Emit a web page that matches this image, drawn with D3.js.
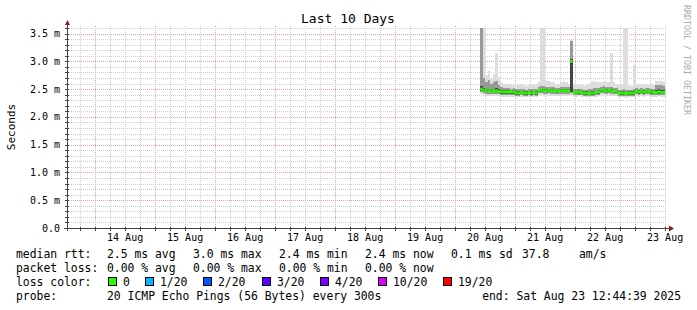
<!DOCTYPE html>
<html>
<head>
<meta charset="utf-8">
<script src="https://cdn.jsdelivr.net/npm/d3@7/dist/d3.min.js"></script>
<style>
body{margin:0;background:#fff;}
svg text{font-family:"DejaVu Sans Mono",monospace;fill:#000;white-space:pre;}
</style>
</head>
<body>
<div class="canvas"></div>
<script>
var pageWidth = 697, pageHeight = 310;
var plotL = 67, plotR = 667, plotT = 28, plotB = 228;

// time window of the graph and the first hourly sample
var graphStart = new Date(2025, 7, 13, 12, 44, 39),
    graphEnd = new Date(2025, 7, 23, 12, 44, 39),
    firstSample = new Date(2025, 7, 20, 10, 0, 0);

// hourly rtt (ms): median and smoke bands (outer / middle / inner)
var med = [2.50,2.48,2.47,2.47,2.47,2.47,2.47,2.46,2.45,2.45, 2.45,2.45,2.45,2.45,2.43,2.43,2.44,2.43,2.43,2.44,
           2.43,2.44,2.43,2.48,2.48,2.47,2.47,2.48,2.47,2.47, 2.46,2.47,2.47,2.47,2.47,2.47,3.00,2.44,2.44,2.45,
           2.44,2.43,2.43,2.42,2.43,2.43,2.44,2.45,2.48,2.48, 2.47,2.48,2.47,2.46,2.46,2.42,2.43,2.43,2.42,2.43,
           2.43,2.43,2.46,2.45,2.46,2.45,2.46,2.46,2.45,2.44, 2.44,2.45,2.44,2.44];
var hi  = [3.62,3.62,2.75,2.82,2.70,2.78,3.15,2.72,2.62,2.60, 2.58,2.60,2.58,2.60,2.57,2.58,2.60,2.57,2.56,2.58,
           2.57,2.58,2.60,2.62,3.62,3.62,2.65,2.64,2.62,2.62, 2.60,2.60,2.62,2.64,2.62,2.60,3.40,2.60,2.58,2.60,
           2.58,2.56,2.58,2.60,2.62,2.64,2.63,2.62,2.62,2.64, 2.62,2.62,3.15,2.62,2.60,2.57,2.58,3.62,3.62,2.57,
           2.56,2.93,2.60,2.58,2.59,2.58,2.60,2.58,2.57,2.58, 2.64,2.65,2.64,2.62];
var mHi = [3.62,2.70,2.62,2.66,2.60,2.62,2.64,2.58,2.54,2.52, 2.52,2.52,2.51,2.52,2.50,2.50,2.51,2.50,2.49,2.50,
           2.50,2.51,2.51,2.54,2.56,2.55,2.54,2.54,2.53,2.53, 2.52,2.52,2.53,2.54,2.53,2.53,3.37,2.51,2.50,2.51,
           2.50,2.49,2.49,2.50,2.51,2.52,2.52,2.52,2.54,2.55, 2.53,2.54,2.53,2.52,2.52,2.49,2.49,2.50,2.49,2.49,
           2.49,2.50,2.52,2.51,2.52,2.51,2.52,2.52,2.51,2.51, 2.57,2.58,2.57,2.55];
var iHi = [2.56,2.52,2.51,2.51,2.51,2.51,2.52,2.50,2.48,2.48, 2.48,2.48,2.47,2.48,2.46,2.46,2.47,2.46,2.46,2.47,
           2.46,2.47,2.46,2.51,2.51,2.50,2.50,2.51,2.50,2.50, 2.49,2.50,2.50,2.50,2.50,2.50,3.05,2.47,2.47,2.48,
           2.47,2.46,2.46,2.45,2.46,2.46,2.47,2.48,2.51,2.51, 2.50,2.51,2.50,2.49,2.49,2.45,2.46,2.46,2.45,2.46,
           2.46,2.46,2.49,2.48,2.49,2.48,2.49,2.49,2.48,2.47, 2.48,2.50,2.49,2.48];
var iLo = [2.47,2.45,2.44,2.44,2.44,2.44,2.44,2.43,2.42,2.42, 2.42,2.42,2.42,2.42,2.40,2.40,2.41,2.40,2.40,2.41,
           2.40,2.41,2.40,2.45,2.45,2.44,2.44,2.45,2.44,2.44, 2.43,2.44,2.44,2.44,2.44,2.44,2.45,2.41,2.41,2.42,
           2.41,2.40,2.40,2.39,2.40,2.40,2.41,2.42,2.45,2.45, 2.44,2.45,2.44,2.43,2.43,2.39,2.40,2.40,2.39,2.40,
           2.40,2.40,2.43,2.42,2.43,2.42,2.43,2.43,2.42,2.41, 2.41,2.42,2.41,2.41];
var mLo = [2.45,2.43,2.42,2.42,2.42,2.42,2.42,2.41,2.40,2.40, 2.40,2.40,2.40,2.40,2.38,2.38,2.39,2.38,2.38,2.39,
           2.38,2.39,2.38,2.43,2.43,2.42,2.42,2.43,2.42,2.42, 2.41,2.42,2.42,2.42,2.42,2.42,2.43,2.39,2.39,2.40,
           2.39,2.38,2.38,2.37,2.38,2.38,2.39,2.40,2.43,2.43, 2.42,2.43,2.42,2.41,2.41,2.37,2.38,2.38,2.37,2.38,
           2.38,2.38,2.41,2.40,2.41,2.40,2.41,2.41,2.40,2.39, 2.39,2.40,2.39,2.39];
var lo  = [2.41,2.39,2.38,2.38,2.38,2.38,2.38,2.37,2.36,2.36, 2.36,2.36,2.36,2.36,2.35,2.35,2.36,2.35,2.35,2.36,
           2.35,2.36,2.35,2.39,2.39,2.38,2.38,2.39,2.38,2.38, 2.37,2.38,2.38,2.38,2.38,2.38,2.40,2.36,2.36,2.37,
           2.36,2.35,2.35,2.34,2.35,2.35,2.36,2.37,2.39,2.39, 2.38,2.39,2.38,2.37,2.37,2.34,2.35,2.35,2.34,2.35,
           2.35,2.35,2.37,2.36,2.37,2.36,2.37,2.37,2.36,2.36, 2.36,2.37,2.36,2.36];

var yLabelValues = [0, 0.5, 1.0, 1.5, 2.0, 2.5, 3.0, 3.5];
var yLabels = ["0.0", "0.5 m", "1.0 m", "1.5 m", "2.0 m", "2.5 m", "3.0 m", "3.5 m"];
var xLabelDays = [14, 15, 16, 17, 18, 19, 20, 21, 22, 23];

var lossLabels = ["0", "1/20", "2/20", "3/20", "4/20", "10/20", "19/20"];
var lossColors = ["#26ff00", "#00b8ff", "#0059ff", "#5e00ff", "#7e00ff", "#dd00ff", "#ff0000"];

var svg = d3.select('.canvas')
    .append('svg')
    .attr('width', pageWidth)
    .attr('height', pageHeight);

var x = d3.scaleTime().domain([graphStart, graphEnd]).range([plotL, plotR]);
var y = d3.scaleLinear().domain([0, 3.6]).range([plotB, plotT]);

// grid
var grid = svg.append('g').attr('shape-rendering', 'crispEdges');
var minorX = d3.timeHour.every(6).range(graphStart, graphEnd);
grid.selectAll('.vminor').data(minorX).enter().append('line')
    .attr('x1', function(d){ return Math.round(x(d)) + 0.5; })
    .attr('x2', function(d){ return Math.round(x(d)) + 0.5; })
    .attr('y1', plotT - 2).attr('y2', plotB)
    .attr('stroke', function(d){ return d.getHours() === 0 ? '#f4a0a0' : '#cfcfcf'; })
    .attr('stroke-dasharray', '1,1');
var minorY = d3.range(1, 37).map(function(i){ return i / 10; });
grid.selectAll('.hminor').data(minorY).enter().append('line')
    .attr('x1', plotL).attr('x2', plotR)
    .attr('y1', function(d){ return Math.round(y(d)) + 0.5; })
    .attr('y2', function(d){ return Math.round(y(d)) + 0.5; })
    .attr('stroke', function(d){ return Math.abs(d * 2 - Math.round(d * 2)) < 1e-6 ? '#f4a0a0' : '#cfcfcf'; })
    .attr('stroke-dasharray', '1,1');

// smoke
var hour = 3600 * 1000;
var idx = d3.range(med.length);
function tAt(i){ return new Date(firstSample.getTime() + i * hour); }
var smoke = svg.append('g').attr('shape-rendering', 'crispEdges');
function band(loArr, hiArr, color){
    smoke.append('g').selectAll('rect').data(idx).enter().append('rect')
        .attr('x', function(i){ return x(tAt(i)); })
        .attr('width', function(i){ return x(tAt(i + 1)) - x(tAt(i)); })
        .attr('y', function(i){ return y(Math.min(hiArr[i], 3.6)); })
        .attr('height', function(i){ return y(loArr[i]) - y(Math.min(hiArr[i], 3.6)); })
        .attr('fill', color);
}
band(lo, hi, '#dddddd');
band(mLo, mHi, '#999999');
band(iLo, iHi, '#454545');

// median, coloured by loss (all 0 loss)
svg.append('g').selectAll('rect').data(idx).enter().append('rect')
    .attr('x', function(i){ return x(tAt(i)); })
    .attr('width', function(i){ return x(tAt(i + 1)) - x(tAt(i)); })
    .attr('y', function(i){ return y(med[i]) - 1.5; })
    .attr('height', 3)
    .attr('fill', lossColors[0]);

// axes
var axisColor = '#444';
var axes = svg.append('g').attr('shape-rendering', 'crispEdges');
axes.append('line').attr('x1', plotL - 3).attr('x2', plotR + 3)
    .attr('y1', plotB + 0.5).attr('y2', plotB + 0.5).attr('stroke', axisColor);
axes.append('line').attr('x1', plotL + 0.5).attr('x2', plotL + 0.5)
    .attr('y1', plotB + 3).attr('y2', plotT - 4).attr('stroke', axisColor);
axes.selectAll('.xt').data(minorX).enter().append('line')
    .attr('x1', function(d){ return Math.round(x(d)) + 0.5; })
    .attr('x2', function(d){ return Math.round(x(d)) + 0.5; })
    .attr('y1', plotB - 1).attr('y2', plotB + 3).attr('stroke', axisColor);
axes.selectAll('.yt').data(minorY).enter().append('line')
    .attr('x1', plotL - 2).attr('x2', plotL + 2)
    .attr('y1', function(d){ return Math.round(y(d)) + 0.5; })
    .attr('y2', function(d){ return Math.round(y(d)) + 0.5; })
    .attr('stroke', axisColor);
svg.append('path').attr('d', 'M' + (plotR + 2) + ',' + (plotB - 2.5) + 'L' + (plotR + 7) + ',' + (plotB + 0.5) + 'L' + (plotR + 2) + ',' + (plotB + 3.5) + 'Z')
    .attr('fill', '#8b1a1a');
svg.append('path').attr('d', 'M' + (plotL - 2) + ',' + (plotT - 3) + 'L' + (plotL + 0.5) + ',' + (plotT - 8) + 'L' + (plotL + 3) + ',' + (plotT - 3) + 'Z')
    .attr('fill', '#8b1a1a');

// axis labels
svg.selectAll('.ylab').data(yLabelValues).enter().append('text')
    .attr('x', 60).attr('y', function(d){ return y(d) + 3.5; })
    .attr('text-anchor', 'end').style('font-size', '10px')
    .text(function(d, i){ return yLabels[i]; });
svg.selectAll('.xlab').data(xLabelDays).enter().append('text')
    .attr('x', function(d){ return x(new Date(2025, 7, d, 12, 0, 0)); })
    .attr('y', 241).attr('text-anchor', 'middle').style('font-size', '10px')
    .text(function(d){ return d + ' Aug'; });

svg.append('text').attr('x', 348).attr('y', 23).attr('text-anchor', 'middle')
    .style('font-size', '13px').text('Last 10 Days');
svg.append('text').attr('transform', 'translate(15,127) rotate(-90)')
    .attr('text-anchor', 'middle').style('font-size', '11px').text('Seconds');
svg.append('text').attr('transform', 'translate(684,5) rotate(90)')
    .style('font-size', '8.3px').style('fill', '#aaaaaa').text('RRDTOOL / TOBI OETIKER');

// legend
var legendRows = [
    [[16, 'median rtt:'], [107, '2.5 ms avg'], [193, '3.0 ms max'], [279, '2.4 ms min'], [365, '2.4 ms now'], [451, '0.1 ms sd'], [522, '37.8'], [579, 'am/s']],
    [[16, 'packet loss:'], [107, '0.00 % avg'], [193, '0.00 % max'], [279, '0.00 % min'], [365, '0.00 % now']],
    [[16, 'loss color:']],
    [[16, 'probe:'], [107, '20 ICMP Echo Pings (56 Bytes) every 300s']]
];
var legend = svg.append('g').style('font-size', '11.4px');
legendRows.forEach(function(row, r){
    row.forEach(function(item){
        legend.append('text').attr('x', item[0]).attr('y', 258 + r * 14).text(item[1]);
    });
});
legend.append('text').attr('x', 681).attr('y', 300).attr('text-anchor', 'end')
    .text('end: Sat Aug 23 12:44:39 2025');

var boxX = [108, 145, 203, 262, 320, 378, 443];
lossLabels.forEach(function(lab, i){
    legend.append('rect').attr('x', boxX[i] + 0.5).attr('y', 277.5).attr('width', 8).attr('height', 8)
        .attr('fill', lossColors[i]).attr('stroke', '#000').attr('shape-rendering', 'crispEdges');
    legend.append('text').attr('x', boxX[i] + 15).attr('y', 286).text(lab);
});
</script>
</body>
</html>
